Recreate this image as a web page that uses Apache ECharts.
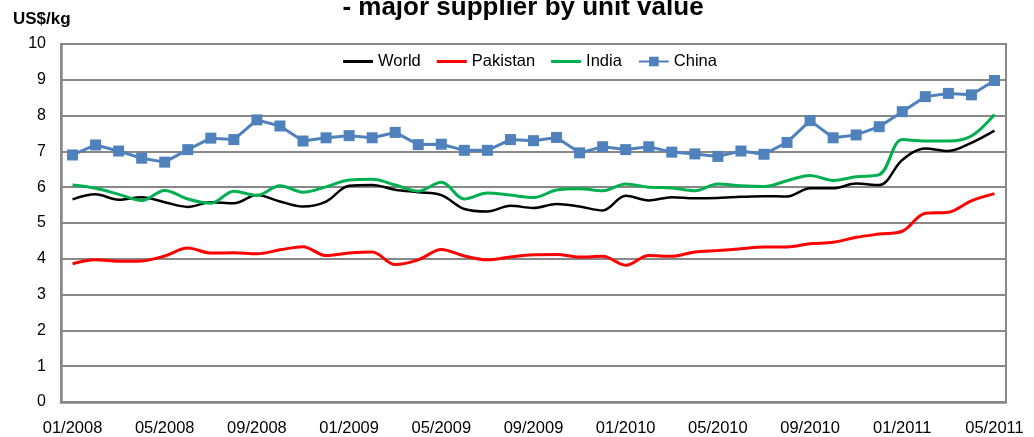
<!DOCTYPE html>
<html>
<head>
<meta charset="utf-8">
<script src="https://cdn.jsdelivr.net/npm/echarts@6/dist/echarts.min.js"></script>
<style>
    html, body { margin: 0; padding: 0; background: #ffffff; }
    #chart { width: 1034px; height: 437px; }
</style>
</head>
<body>
<div id="chart"></div>
<script>
//月份
var months = [
    "01/2008", "02/2008", "03/2008", "04/2008", "05/2008", "06/2008", "07/2008", "08/2008", "09/2008", "10/2008", "11/2008", "12/2008",
    "01/2009", "02/2009", "03/2009", "04/2009", "05/2009", "06/2009", "07/2009", "08/2009", "09/2009", "10/2009", "11/2009", "12/2009",
    "01/2010", "02/2010", "03/2010", "04/2010", "05/2010", "06/2010", "07/2010", "08/2010", "09/2010", "10/2010", "11/2010", "12/2010",
    "01/2011", "02/2011", "03/2011", "04/2011", "05/2011"
];

var world = [5.66, 5.80, 5.65, 5.72, 5.58, 5.45, 5.58, 5.55, 5.78, 5.60, 5.46, 5.60,
    6.04, 6.06, 5.93, 5.86, 5.78, 5.39, 5.32, 5.48, 5.42, 5.53, 5.46, 5.35,
    5.76, 5.63, 5.72, 5.69, 5.70, 5.73, 5.75, 5.74, 5.97, 5.97, 6.10, 6.06,
    6.76, 7.08, 7.01, 7.24, 7.58];

var pakistan = [3.86, 3.97, 3.93, 3.94, 4.08, 4.30, 4.16, 4.17, 4.14, 4.25, 4.34, 4.09,
    4.16, 4.19, 3.84, 3.97, 4.26, 4.08, 3.97, 4.05, 4.11, 4.12, 4.05, 4.07,
    3.82, 4.09, 4.07, 4.19, 4.23, 4.28, 4.33, 4.33, 4.42, 4.46, 4.60, 4.69,
    4.77, 5.27, 5.30, 5.62, 5.82];

var india = [6.06, 5.97, 5.80, 5.63, 5.91, 5.67, 5.55, 5.89, 5.77, 6.04, 5.86, 6.01,
    6.20, 6.22, 6.06, 5.89, 6.14, 5.67, 5.84, 5.78, 5.71, 5.92, 5.96, 5.90,
    6.09, 6.00, 5.98, 5.90, 6.09, 6.04, 6.02, 6.18, 6.33, 6.19, 6.29, 6.35,
    7.33, 7.29, 7.29, 7.43, 8.03];

var china = [6.90, 7.18, 7.01, 6.81, 6.70, 7.05, 7.37, 7.33, 7.88, 7.71, 7.29, 7.38,
    7.44, 7.38, 7.53, 7.19, 7.20, 7.03, 7.03, 7.33, 7.30, 7.39, 6.96, 7.13,
    7.05, 7.13, 6.98, 6.93, 6.86, 7.01, 6.92, 7.25, 7.86, 7.38, 7.46, 7.69,
    8.11, 8.53, 8.62, 8.58, 8.98];

var yTicks = [0, 1, 2, 3, 4, 5, 6, 7, 8, 9, 10];

var fontName = "Liberation Sans, Arial, sans-serif";
var gridColor = "#888888";
//图例中的纯线条
var lineIcon = 'path://M0,0L100,0L100,10L0,10Z';

var price_echart = echarts.init(document.getElementById("chart"));

function lineSeries(name, data, color, width) {
    return {
        name: name,
        type: 'line',
        data: data,
        smooth: 0.35,
        showSymbol: false,
        symbol: 'none',
        lineStyle: { color: color, width: width },
        itemStyle: { color: color },
        z: 3
    };
}

var option = {
    animation: false,
    backgroundColor: '#ffffff',
    textStyle: { fontFamily: fontName },
    graphic: [
        {
            type: 'text',
            x: 523,
            y: 21,
            style: {
                text: '- major supplier by unit value',
                font: 'bold 26px ' + fontName,
                textAlign: 'center',
                textVerticalAlign: 'bottom',
                fill: '#000000'
            }
        },
        {
            type: 'text',
            x: 13,
            y: 19,
            style: {
                text: 'US$/kg',
                font: 'bold 17px ' + fontName,
                textAlign: 'left',
                textVerticalAlign: 'middle',
                fill: '#000000'
            }
        }
    ],
    legend: {
        left: 343,
        top: 53,
        padding: 0,
        itemWidth: 30,
        itemHeight: 12,
        itemGap: 16,
        symbolKeepAspect: true,
        textStyle: { fontSize: 16.5, color: '#000000', fontFamily: fontName },
        data: [
            { name: 'World', icon: lineIcon },
            { name: 'Pakistan', icon: lineIcon },
            { name: 'India', icon: lineIcon },
            { name: 'China' }
        ]
    },
    grid: {
        left: 61,
        right: 28,
        top: 44,
        bottom: 35,
        show: true,
        borderColor: gridColor,
        borderWidth: 2,
        backgroundColor: 'transparent'
    },
    xAxis: {
        type: 'category',
        data: months,
        boundaryGap: true,
        axisLine: { lineStyle: { color: gridColor, width: 2.5 } },
        axisTick: { show: false },
        axisLabel: {
            interval: 3,
            color: '#000000',
            fontSize: 16.5,
            fontFamily: fontName,
            margin: 18,
            showMaxLabel: true
        },
        splitLine: { show: false }
    },
    yAxis: {
        type: 'value',
        min: yTicks[0],
        max: yTicks[yTicks.length - 1],
        interval: 1,
        axisLine: { show: true, lineStyle: { color: gridColor, width: 2.5 } },
        axisTick: { show: false },
        axisLabel: {
            color: '#000000',
            fontSize: 16,
            fontFamily: fontName,
            margin: 15
        },
        splitLine: { lineStyle: { color: gridColor, width: 2 } }
    },
    series: [
        lineSeries('World', world, '#000000', 2.5),
        lineSeries('Pakistan', pakistan, '#ff0000', 3),
        lineSeries('India', india, '#00b050', 3),
        {
            name: 'China',
            type: 'line',
            data: china,
            symbol: 'rect',
            symbolSize: 11,
            showSymbol: true,
            lineStyle: { color: '#4f81bd', width: 3 },
            itemStyle: { color: '#4f81bd' },
            z: 4
        }
    ]
};
price_echart.setOption(option, true);
</script>
</body>
</html>
